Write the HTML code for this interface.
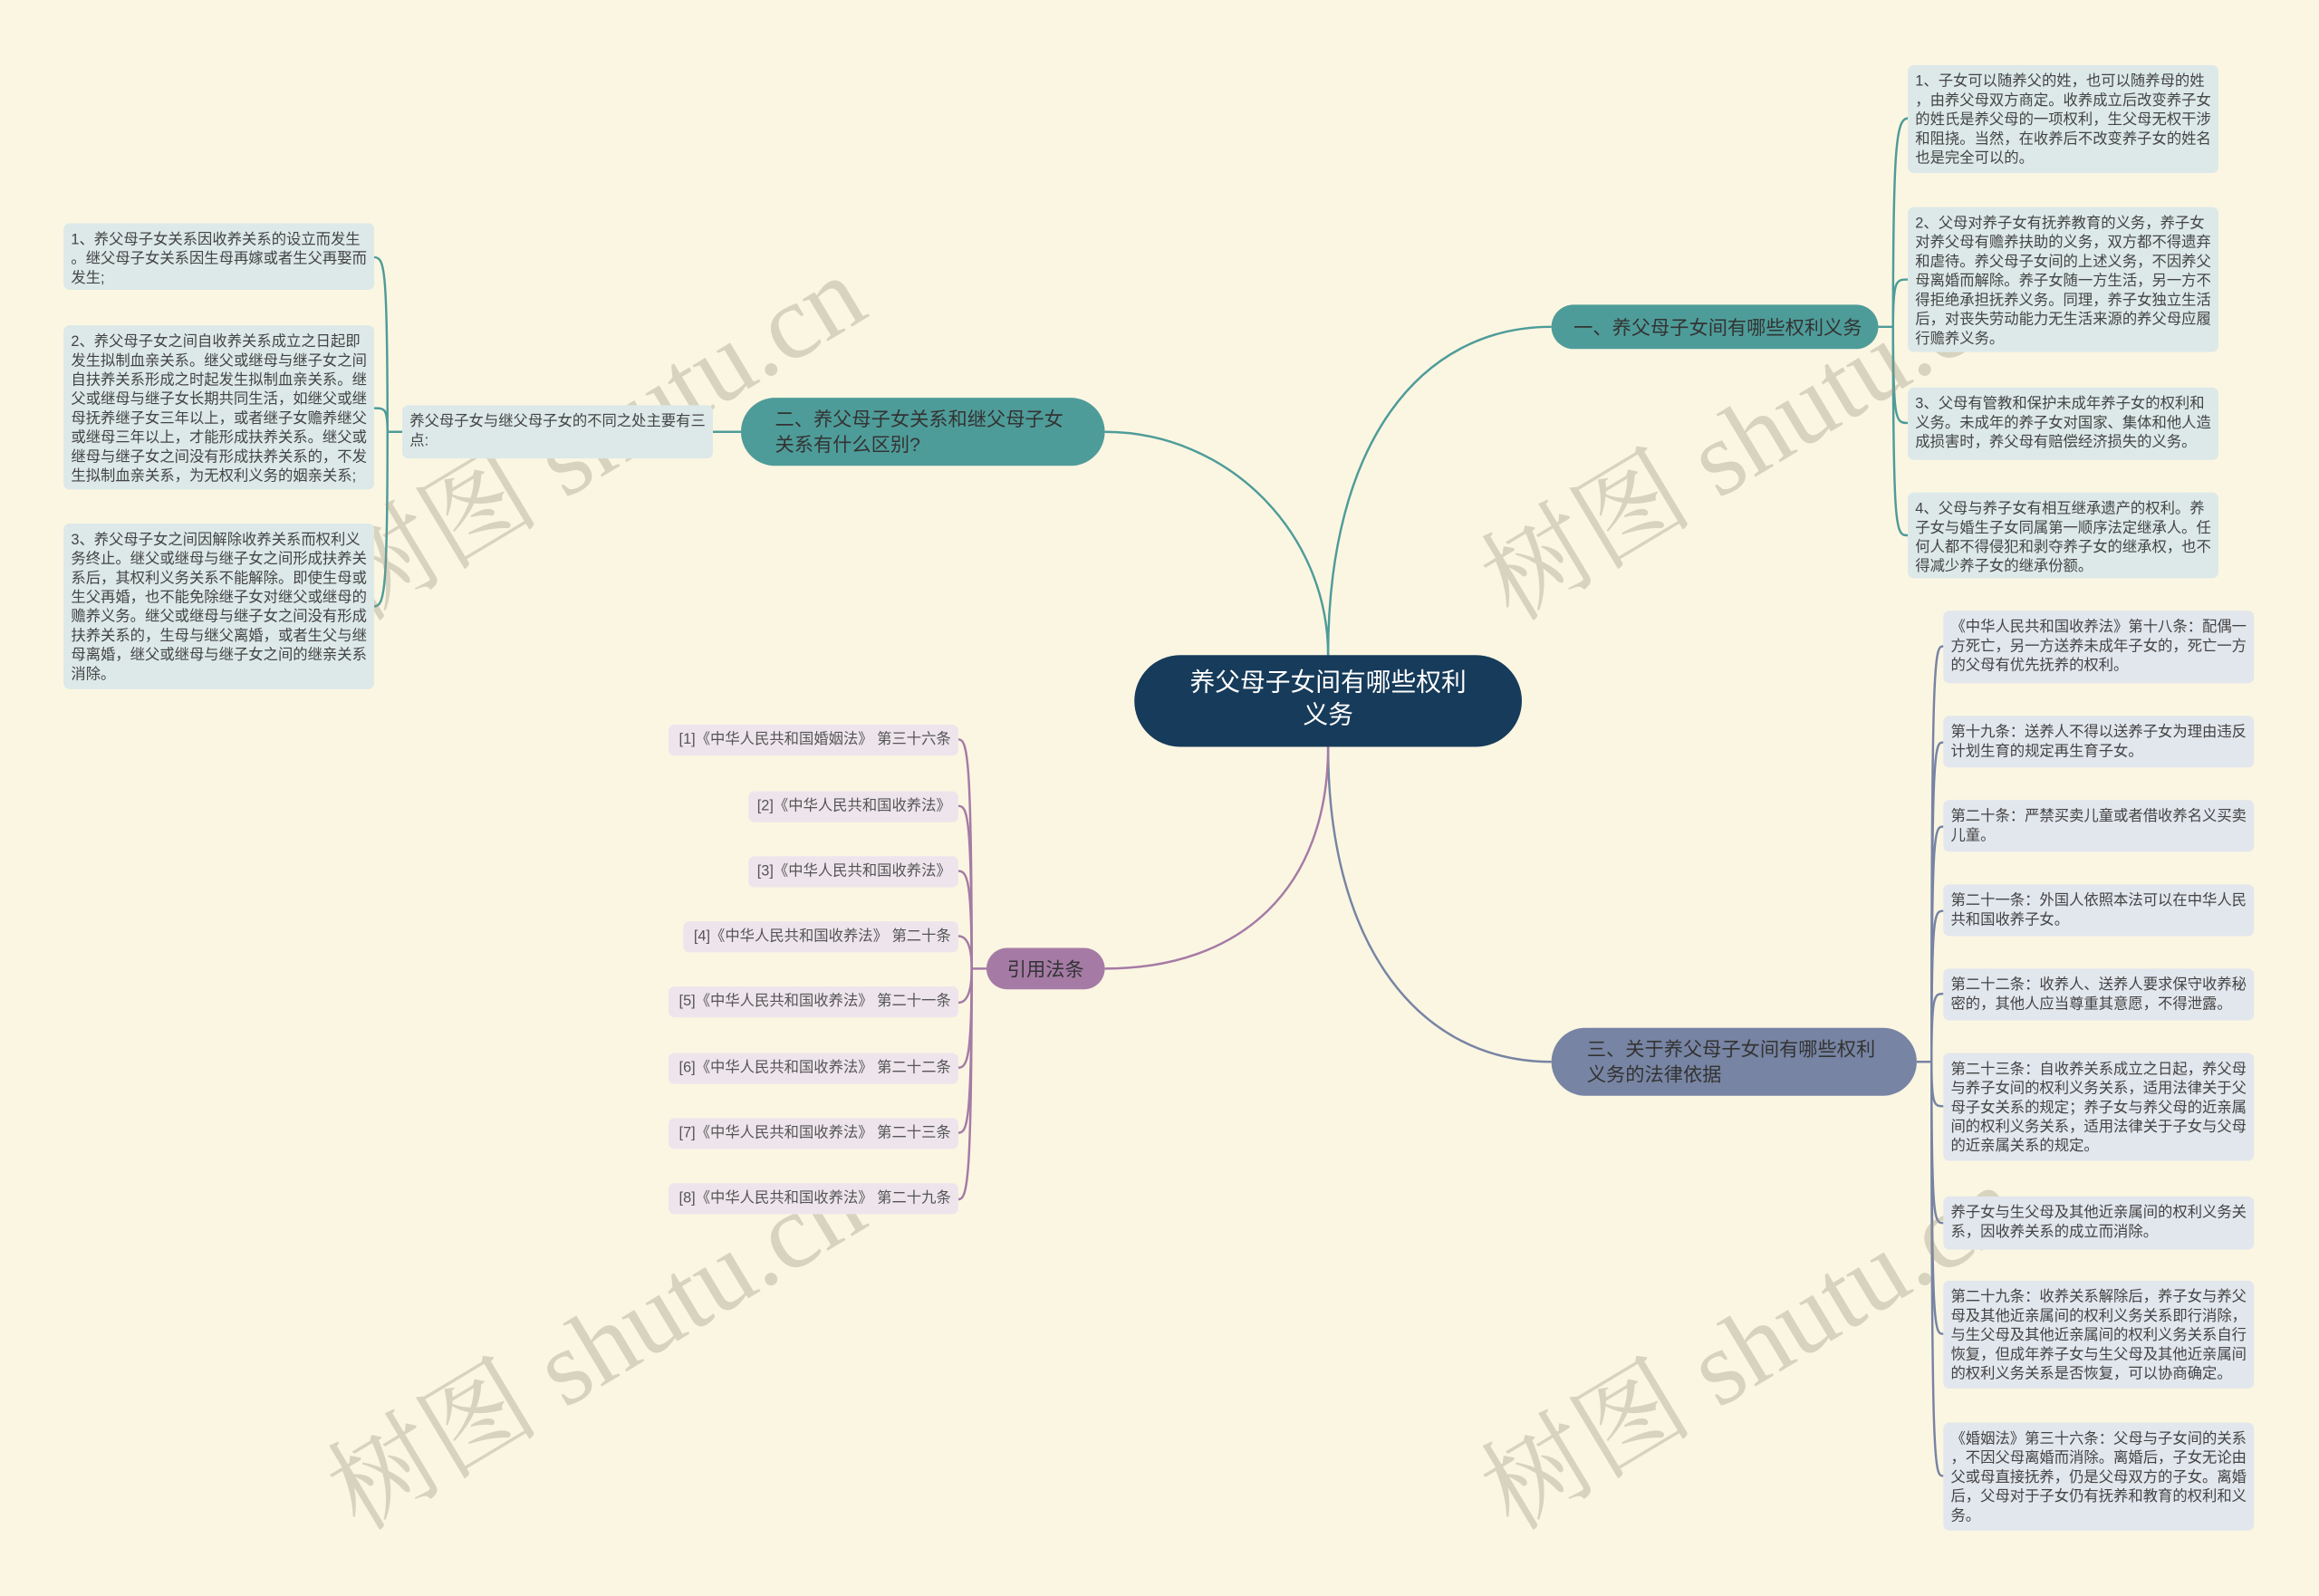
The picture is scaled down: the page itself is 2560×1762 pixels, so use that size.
<!DOCTYPE html>
<html><head><meta charset="utf-8"><style>
html,body{margin:0;padding:0;background:#fbf6e2;}
body{width:2560px;height:1761px;overflow:hidden;position:relative;}
#c{position:absolute;left:0;top:0;width:1568px;height:1079px;transform:scale(1.63265);transform-origin:0 0;font-family:"Liberation Sans","Noto Sans CJK SC",sans-serif;}
.n{position:absolute;box-sizing:border-box;}
.leaf{font-size:10px;line-height:13px;color:#444;padding:5px 5px;border-radius:4px;white-space:nowrap;}
.t{background:#dce9e8;}
.g{background:#e2e6ed;}
.p{background:#eee5ec;font-size:10px;line-height:21px;height:21px;padding:0 5px;color:#555;border-radius:4px;white-space:nowrap;text-align:right;}
.br{color:#333;font-size:13px;line-height:17px;border-radius:23px;display:flex;align-items:center;}
.wm{position:absolute;font-family:"Liberation Serif","Noto Serif CJK SC",serif;font-size:72px;color:rgba(150,145,125,0.35);transform:rotate(-31deg);transform-origin:0 0;white-space:nowrap;}
svg{position:absolute;left:0;top:0;}
</style></head><body><div id="c">
<svg width="1568" height="1079" fill="none" stroke-width="1.5">
<g stroke="#4e9c99">
<path d="M898,443 C898,300 960,221 1049,221"/>
<path d="M898,443 C898,360 830,292 747,292"/>
<path d="M501,292 L482,292"/>
<path d="M1270,221 L1280,221"/>
<path d="M1280,221 C1280,100 1282,80 1290,80"/>
<path d="M1280,221 C1280,189 1282,189 1290,189"/>
<path d="M1280,221 C1280,286 1282,286 1290,286"/>
<path d="M1280,221 C1280,362 1282,362 1290,362"/>
<path d="M272,292 L262,292"/>
<path d="M262,292 C262,180 260,174 253,174"/>
<path d="M262,292 C262,276 260,276 253,276"/>
<path d="M262,292 C262,400 260,410 253,410"/>
</g>
<g stroke="#7784a3">
<path d="M898,505 C898,640 960,718 1049,718"/>
<path d="M1296,718 L1306,718"/>
<path d="M1306,718 C1306,440 1308,437 1314,437"/>
<path d="M1306,718 C1306,502 1308,502 1314,502"/>
<path d="M1306,718 C1306,559 1308,559 1314,559"/>
<path d="M1306,718 C1306,616 1308,616 1314,616"/>
<path d="M1306,718 C1306,672 1308,672 1314,672"/>
<path d="M1306,718 C1306,748 1308,748 1314,748"/>
<path d="M1306,718 C1306,827 1308,827 1314,827"/>
<path d="M1306,718 C1306,902 1308,902 1314,902"/>
<path d="M1306,718 C1306,998 1308,998 1314,998"/>
</g>
<g stroke="#a57ba5">
<path d="M898,505 C898,600 840,655 747,655"/>
<path d="M667,655 L657,655"/>
<path d="M657,655 C657,510 654,500 648,500"/>
<path d="M657,655 C657,550 654,545 648,545"/>
<path d="M657,655 C657,595 654,589 648,589"/>
<path d="M657,655 C657,640 654,633 648,633"/>
<path d="M657,655 C657,670 654,678 648,678"/>
<path d="M657,655 C657,715 654,722 648,722"/>
<path d="M657,655 C657,760 654,766 648,766"/>
<path d="M657,655 C657,800 654,811 648,811"/>
</g>
</svg>

<div class="wm" style="left:200px;top:350px;">树图 shutu.cn</div>
<div class="wm" style="left:980px;top:350px;">树图 shutu.cn</div>
<div class="wm" style="left:200px;top:965px;">树图 shutu.cn</div>
<div class="wm" style="left:980px;top:965px;">树图 shutu.cn</div>

<div class="n" style="left:767px;top:443px;width:262px;height:62px;background:#173b5a;border-radius:31px;color:#fff;font-size:17px;line-height:22px;text-align:center;padding-top:8px;">养父母子女间有哪些权利<br>义务</div>

<div class="n br" style="left:1049px;top:206px;width:221px;height:30px;background:#4e9c99;padding-left:15px;">一、养父母子女间有哪些权利义务</div>
<div class="n br" style="left:501px;top:269px;width:246px;height:46px;background:#4e9c99;padding-left:23px;">二、养父母子女关系和继父母子女<br>关系有什么区别?</div>
<div class="n br" style="left:1049px;top:695px;width:247px;height:46px;background:#7784a3;padding-left:24px;">三、关于养父母子女间有哪些权利<br>义务的法律依据</div>
<div class="n br" style="left:667px;top:641px;width:80px;height:28px;background:#a57ba5;justify-content:center;">引用法条</div>

<div class="n leaf t" style="left:1290px;top:44px;width:210px;height:73px;">1、子女可以随养父的姓，也可以随养母的姓<br>，由养父母双方商定。收养成立后改变养子女<br>的姓氏是养父母的一项权利，生父母无权干涉<br>和阻挠。当然，在收养后不改变养子女的姓名<br>也是完全可以的。</div>
<div class="n leaf t" style="left:1290px;top:140px;width:210px;height:98px;">2、父母对养子女有抚养教育的义务，养子女<br>对养父母有赡养扶助的义务，双方都不得遗弃<br>和虐待。养父母子女间的上述义务，不因养父<br>母离婚而解除。养子女随一方生活，另一方不<br>得拒绝承担抚养义务。同理，养子女独立生活<br>后，对丧失劳动能力无生活来源的养父母应履<br>行赡养义务。</div>
<div class="n leaf t" style="left:1290px;top:262px;width:210px;height:49px;">3、父母有管教和保护未成年养子女的权利和<br>义务。未成年的养子女对国家、集体和他人造<br>成损害时，养父母有赔偿经济损失的义务。</div>
<div class="n leaf t" style="left:1290px;top:333px;width:210px;height:58px;">4、父母与养子女有相互继承遗产的权利。养<br>子女与婚生子女同属第一顺序法定继承人。任<br>何人都不得侵犯和剥夺养子女的继承权，也不<br>得减少养子女的继承份额。</div>

<div class="n leaf t" style="left:272px;top:274px;width:210px;height:36px;">养父母子女与继父母子女的不同之处主要有三<br>点:</div>
<div class="n leaf t" style="left:43px;top:151px;width:210px;height:45px;">1、养父母子女关系因收养关系的设立而发生<br>。继父母子女关系因生母再嫁或者生父再娶而<br>发生;</div>
<div class="n leaf t" style="left:43px;top:220px;width:210px;height:111px;">2、养父母子女之间自收养关系成立之日起即<br>发生拟制血亲关系。继父或继母与继子女之间<br>自扶养关系形成之时起发生拟制血亲关系。继<br>父或继母与继子女长期共同生活，如继父或继<br>母抚养继子女三年以上，或者继子女赡养继父<br>或继母三年以上，才能形成扶养关系。继父或<br>继母与继子女之间没有形成扶养关系的，不发<br>生拟制血亲关系，为无权利义务的姻亲关系;</div>
<div class="n leaf t" style="left:43px;top:354px;width:210px;height:112px;">3、养父母子女之间因解除收养关系而权利义<br>务终止。继父或继母与继子女之间形成扶养关<br>系后，其权利义务关系不能解除。即使生母或<br>生父再婚，也不能免除继子女对继父或继母的<br>赡养义务。继父或继母与继子女之间没有形成<br>扶养关系的，生母与继父离婚，或者生父与继<br>母离婚，继父或继母与继子女之间的继亲关系<br>消除。</div>

<div class="n leaf g" style="left:1314px;top:413px;width:210px;height:49px;">《中华人民共和国收养法》第十八条：配偶一<br>方死亡，另一方送养未成年子女的，死亡一方<br>的父母有优先抚养的权利。</div>
<div class="n leaf g" style="left:1314px;top:484px;width:210px;height:35px;">第十九条：送养人不得以送养子女为理由违反<br>计划生育的规定再生育子女。</div>
<div class="n leaf g" style="left:1314px;top:541px;width:210px;height:35px;">第二十条：严禁买卖儿童或者借收养名义买卖<br>儿童。</div>
<div class="n leaf g" style="left:1314px;top:598px;width:210px;height:35px;">第二十一条：外国人依照本法可以在中华人民<br>共和国收养子女。</div>
<div class="n leaf g" style="left:1314px;top:655px;width:210px;height:35px;">第二十二条：收养人、送养人要求保守收养秘<br>密的，其他人应当尊重其意愿，不得泄露。</div>
<div class="n leaf g" style="left:1314px;top:712px;width:210px;height:73px;">第二十三条：自收养关系成立之日起，养父母<br>与养子女间的权利义务关系，适用法律关于父<br>母子女关系的规定；养子女与养父母的近亲属<br>间的权利义务关系，适用法律关于子女与父母<br>的近亲属关系的规定。</div>
<div class="n leaf g" style="left:1314px;top:809px;width:210px;height:36px;">养子女与生父母及其他近亲属间的权利义务关<br>系，因收养关系的成立而消除。</div>
<div class="n leaf g" style="left:1314px;top:866px;width:210px;height:73px;">第二十九条：收养关系解除后，养子女与养父<br>母及其他近亲属间的权利义务关系即行消除，<br>与生父母及其他近亲属间的权利义务关系自行<br>恢复，但成年养子女与生父母及其他近亲属间<br>的权利义务关系是否恢复，可以协商确定。</div>
<div class="n leaf g" style="left:1314px;top:962px;width:210px;height:73px;">《婚姻法》第三十六条：父母与子女间的关系<br>，不因父母离婚而消除。离婚后，子女无论由<br>父或母直接抚养，仍是父母双方的子女。离婚<br>后，父母对于子女仍有抚养和教育的权利和义<br>务。</div>

<div class="n p" style="left:452px;top:490px;width:196px;">[1]《中华人民共和国婚姻法》 第三十六条</div>
<div class="n p" style="left:506px;top:535px;width:142px;">[2]《中华人民共和国收养法》</div>
<div class="n p" style="left:506px;top:579px;width:142px;">[3]《中华人民共和国收养法》</div>
<div class="n p" style="left:462px;top:623px;width:186px;">[4]《中华人民共和国收养法》 第二十条</div>
<div class="n p" style="left:452px;top:667px;width:196px;">[5]《中华人民共和国收养法》 第二十一条</div>
<div class="n p" style="left:452px;top:712px;width:196px;">[6]《中华人民共和国收养法》 第二十二条</div>
<div class="n p" style="left:452px;top:756px;width:196px;">[7]《中华人民共和国收养法》 第二十三条</div>
<div class="n p" style="left:452px;top:800px;width:196px;">[8]《中华人民共和国收养法》 第二十九条</div>
</div></body></html>
